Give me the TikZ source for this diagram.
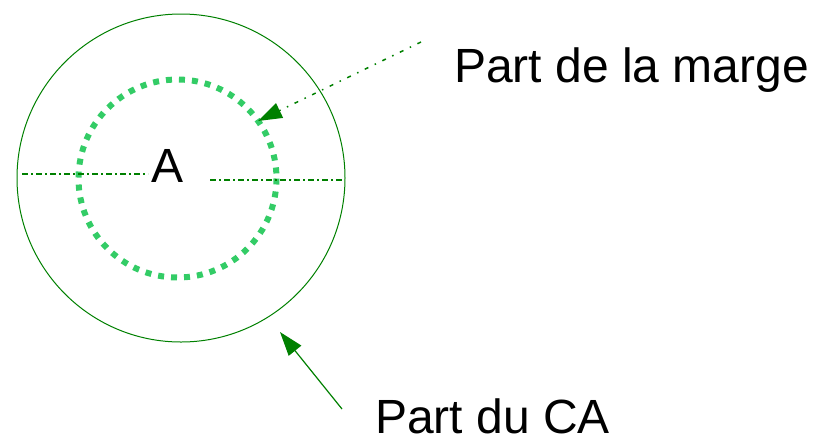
\documentclass[tikz,border=0pt]{standalone}
\usepackage{fontspec}
\setmainfont{Liberation Sans}
\usetikzlibrary{arrows.meta}
\definecolor{dkgreen}{RGB}{0,128,0}
\definecolor{ltgreen}{RGB}{51,204,102}
\begin{document}
\begin{tikzpicture}[x=1pt,y=-1pt,
  lbl/.style={font=\fontsize{48}{56}\selectfont, inner sep=0pt, anchor=base west},
  axisline/.style={dkgreen, line width=2pt, dash pattern=on 6pt off 3pt on 2pt off 3pt},
  ptr/.style={dkgreen, -{Triangle[length=24pt,width=16pt]}},
]
\useasboundingbox (0,0) rectangle (821,440);
% outer circle
\draw[dkgreen, line width=1pt] (181,178) circle[radius=164];
% inner dotted circle
\draw[ltgreen, line width=6pt, dash pattern=on 6pt off 7pt] (177.5,178.5) circle[radius=99];
% label A
\node[lbl] (A) at (151,182) {A};
% horizontal dash-dot lines
\coordinate (l1) at (22,174);
\coordinate (l2) at (148,174);
\coordinate (r1) at (210,180);
\coordinate (r2) at (343,180);
\draw[axisline] (l1) -- (l2);
\draw[axisline] (r1) -- (r2);
% labels
\node[lbl] (marge) at (454,82) {Part de la marge};
\node[lbl] (ca) at (375,433) {Part du CA};
% arrows
\coordinate (m0) at (421,42);
\coordinate (m1) at (258,121);
\draw[ptr, line width=1.5pt, dash pattern=on 4pt off 7pt on 1.5pt off 7pt] (m0) -- (m1);
\coordinate (c0) at (342,409);
\coordinate (c1) at (280,332);
\draw[ptr, line width=1.2pt] (c0) -- (c1);
\end{tikzpicture}
\end{document}
